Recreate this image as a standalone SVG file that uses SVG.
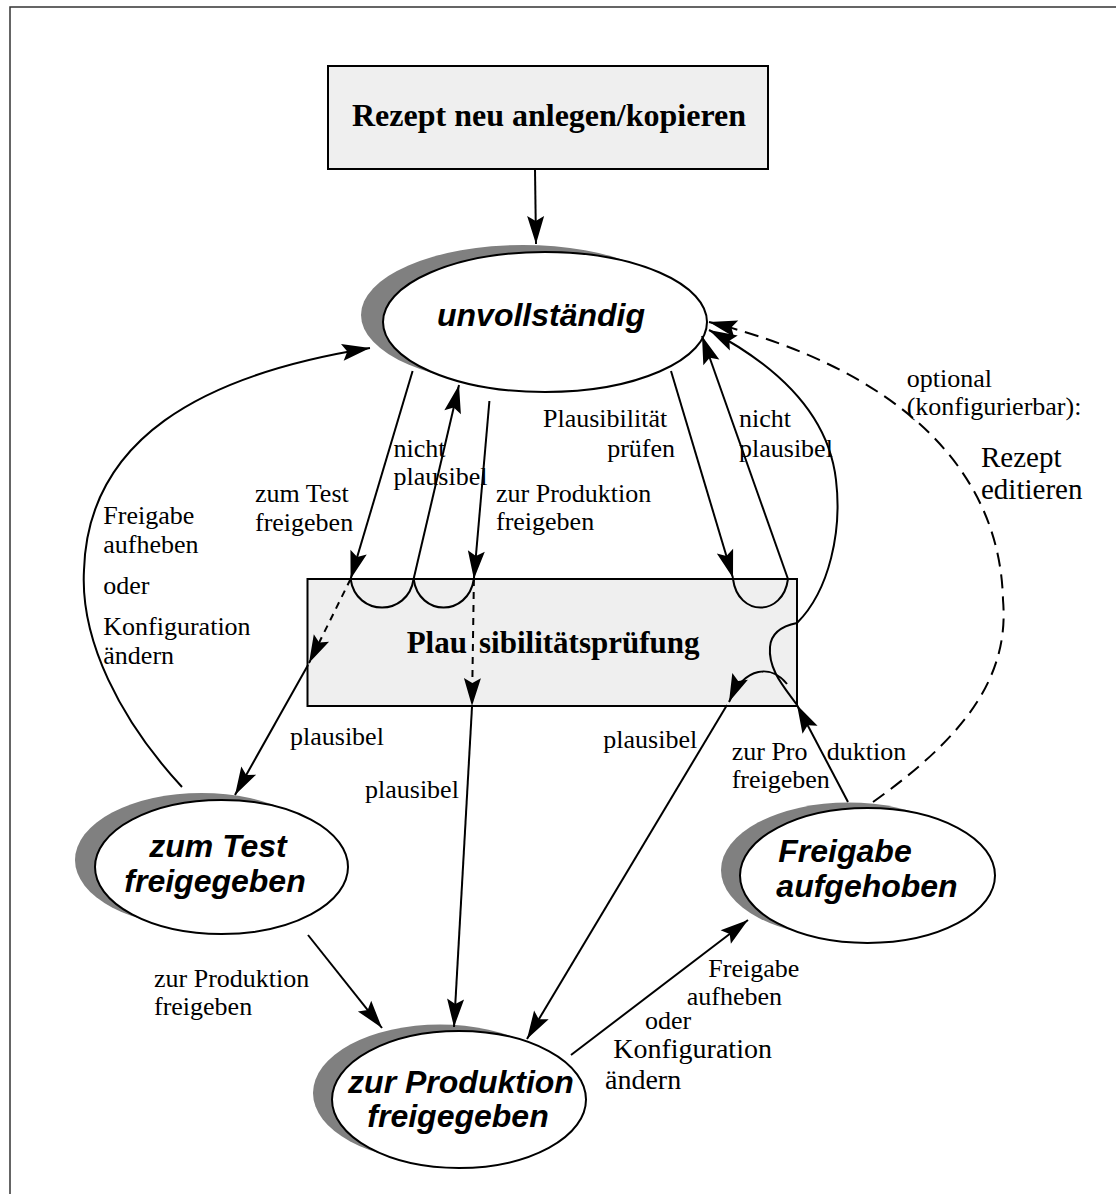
<svg xmlns="http://www.w3.org/2000/svg" width="1116" height="1194" viewBox="0 0 1116 1194">
  <style>
    .frame { fill: none; stroke: #333; stroke-width: 1.5; }
    .box { fill: #efefef; stroke: #000; stroke-width: 2; }
    .shadow { fill: #808080; stroke: none; }
    .state { fill: #fff; stroke: #000; stroke-width: 2; }
    .edge { fill: none; stroke: #000; stroke-width: 2; }
    .dash { fill: none; stroke: #000; stroke-width: 2; stroke-dasharray: 7 6; }
    .ldash { fill: none; stroke: #000; stroke-width: 2; stroke-dasharray: 14 8; }
    .title { font-family: "Liberation Serif", "Times New Roman", serif; font-weight: bold; font-size: 32px; fill: #000; }
    .stitle { font-family: "Liberation Serif", "Times New Roman", serif; font-weight: bold; font-size: 31px; fill: #000; }
    .sname { font-family: "Liberation Sans", Arial, sans-serif; font-weight: bold; font-style: italic; font-size: 32px; fill: #000; text-anchor: middle; }
    .lbl { font-family: "Liberation Serif", "Times New Roman", serif; font-size: 26px; fill: #000; }
    .lbl28 { font-family: "Liberation Serif", "Times New Roman", serif; font-size: 28px; fill: #000; }
    .lbl29 { font-family: "Liberation Serif", "Times New Roman", serif; font-size: 29px; fill: #000; }
  </style>
  <defs>
    <marker id="arrow" markerUnits="userSpaceOnUse" viewBox="-1 -10 30 20" refX="28" refY="0" markerWidth="30" markerHeight="20" orient="auto">
      <path d="M0,-8.5 L28,0 L0,8.5 L5,0 Z" fill="#000"/>
    </marker>
  </defs>

  <rect width="1116" height="1194" fill="#fff"/>
  <path class="frame" d="M10,1194 V7 H1116"/>

  <!-- start box -->
  <g id="node-start">
    <rect class="box" x="328" y="66" width="440" height="103"/>
    <text class="title" x="549" y="126" text-anchor="middle">Rezept neu anlegen/kopieren</text>
  </g>

  <!-- state: unvollständig -->
  <g id="node-unvollstaendig">
    <ellipse class="shadow" cx="523" cy="315" rx="162" ry="70"/>
    <ellipse class="state" cx="545" cy="322" rx="162" ry="70"/>
    <text class="sname" x="541" y="326">unvollständig</text>
  </g>

  <!-- check box -->
  <g id="node-check">
    <rect class="box" x="307.5" y="579" width="489.5" height="127"/>
    <text class="stitle" y="653"><tspan x="406.7">Plau</tspan><tspan x="479">sibilitätsprüfung</tspan></text>
  </g>

  <!-- state: zum Test freigegeben -->
  <g id="node-test">
    <ellipse class="shadow" cx="201.5" cy="860" rx="126.5" ry="67"/>
    <ellipse class="state" cx="221.5" cy="867" rx="126.5" ry="67"/>
    <text class="sname" x="218" y="857">zum Test</text>
    <text class="sname" x="215" y="892">freigegeben</text>
  </g>

  <!-- state: zur Produktion freigegeben -->
  <g id="node-produktion">
    <ellipse class="shadow" cx="440" cy="1093" rx="127" ry="68.5"/>
    <ellipse class="state" cx="459" cy="1099.5" rx="127" ry="68.5"/>
    <text class="sname" x="461" y="1093">zur Produktion</text>
    <text class="sname" x="458" y="1127">freigegeben</text>
  </g>

  <!-- state: Freigabe aufgehoben -->
  <g id="node-aufgehoben">
    <ellipse class="shadow" cx="848.5" cy="870" rx="127.5" ry="67.5"/>
    <ellipse class="state" cx="867.5" cy="875.5" rx="127.5" ry="67.5"/>
    <text class="sname" x="845" y="862">Freigabe</text>
    <text class="sname" x="867" y="897">aufgehoben</text>
  </g>

  <!-- transitions -->
  <g id="connectors">
    <line class="edge" x1="535" y1="169" x2="536" y2="244" marker-end="url(#arrow)"/>

    <!-- unvollständig -> check (test) and loop back -->
    <line class="edge" x1="412.6" y1="371" x2="350.6" y2="579" marker-end="url(#arrow)"/>
    <path class="edge" d="M350.6,579 C356,617 408,617 413.6,579"/>
    <line class="edge" x1="413.6" y1="579" x2="459" y2="385" marker-end="url(#arrow)"/>
    <path class="edge" d="M413.6,579 C419,617 468,617 473.9,579"/>
    <line class="edge" x1="489.4" y1="401" x2="473.9" y2="579" marker-end="url(#arrow)"/>

    <!-- pass-through inside check box -->
    <line class="dash" x1="350.6" y1="579" x2="309" y2="663" marker-end="url(#arrow)"/>
    <line class="dash" x1="473.9" y1="579" x2="472" y2="706" marker-end="url(#arrow)"/>

    <!-- check -> zum Test / zur Produktion -->
    <line class="edge" x1="308" y1="665" x2="235" y2="795" marker-end="url(#arrow)"/>
    <line class="edge" x1="472" y1="707" x2="454" y2="1027" marker-end="url(#arrow)"/>

    <!-- Plausibilität prüfen (right) -->
    <line class="edge" x1="671" y1="371" x2="733" y2="578" marker-end="url(#arrow)"/>
    <path class="edge" d="M733,579 C738,617 783,617 788,579"/>
    <line class="edge" x1="788" y1="579" x2="702" y2="336" marker-end="url(#arrow)"/>

    <!-- zum Test -> unvollständig -->
    <path class="edge" d="M182,787 C120,720 80,640 84,570 C88,440 200,375 370,348" marker-end="url(#arrow)"/>

    <!-- zum Test -> zur Produktion -->
    <line class="edge" x1="308" y1="935" x2="382" y2="1028" marker-end="url(#arrow)"/>

    <!-- zur Produktion -> Freigabe aufgehoben -->
    <line class="edge" x1="571" y1="1055" x2="748" y2="920" marker-end="url(#arrow)"/>

    <!-- Freigabe aufgehoben -> check box -->
    <line class="edge" x1="848" y1="802" x2="797" y2="705" marker-end="url(#arrow)"/>
    <path class="edge" d="M797,705 C785,688 768,670 770,647 C771,633 782,626 797,623"/>
    <path class="edge" d="M797,623 C830,590 842,530 836,480 C828,410 770,362 709,330" marker-end="url(#arrow)"/>
    <path class="edge" d="M787,684 C772,665 745,665 729,702" marker-end="url(#arrow)"/>
    <line class="edge" x1="727" y1="705" x2="527" y2="1039" marker-end="url(#arrow)"/>

    <!-- optional edit -->
    <path class="ldash" d="M873,802 C960,740 1010,680 1003,600 C1000,470 900,370 709,322" marker-end="url(#arrow)"/>
  </g>

  <!-- transition labels -->
  <g id="labels">
    <text class="lbl" x="393.6" y="456.7">nicht</text>
    <text class="lbl" x="393.6" y="485">plausibel</text>
    <text class="lbl" x="255" y="501.7">zum Test</text>
    <text class="lbl" x="255" y="530.7">freigeben</text>
    <text class="lbl" x="496" y="501.7">zur Produktion</text>
    <text class="lbl" x="496" y="530">freigeben</text>
    <text class="lbl" x="543" y="426.7">Plausibilität</text>
    <text class="lbl" x="675" y="456.7" text-anchor="end">prüfen</text>
    <text class="lbl" x="739" y="427">nicht</text>
    <text class="lbl" x="739" y="456.7">plausibel</text>

    <text class="lbl" x="103.3" y="524">Freigabe</text>
    <text class="lbl" x="103.3" y="553.3">aufheben</text>
    <text class="lbl" x="103.3" y="594">oder</text>
    <text class="lbl" x="103.3" y="635">Konfiguration</text>
    <text class="lbl" x="103.3" y="664">ändern</text>

    <text class="lbl" x="906.7" y="387.3">optional</text>
    <text class="lbl" x="906.7" y="415">(konfigurierbar):</text>
    <text class="lbl29" x="981" y="466.7">Rezept</text>
    <text class="lbl29" x="981" y="499.3">editieren</text>

    <text class="lbl" x="290" y="745">plausibel</text>
    <text class="lbl" x="365" y="798">plausibel</text>
    <text class="lbl" x="603.3" y="748.3">plausibel</text>
    <text class="lbl" y="759.5"><tspan x="731.7">zur Pro</tspan><tspan x="826.7">duktion</tspan></text>
    <text class="lbl" x="731.7" y="788.3">freigeben</text>

    <text class="lbl" x="154" y="987">zur Produktion</text>
    <text class="lbl" x="154" y="1015">freigeben</text>

    <text class="lbl" x="708.3" y="976.7">Freigabe</text>
    <text class="lbl" x="686.7" y="1005">aufheben</text>
    <text class="lbl" x="645" y="1028.5">oder</text>
    <text class="lbl28" x="613.3" y="1057.5">Konfiguration</text>
    <text class="lbl28" x="605" y="1088.5">ändern</text>
  </g>
</svg>
